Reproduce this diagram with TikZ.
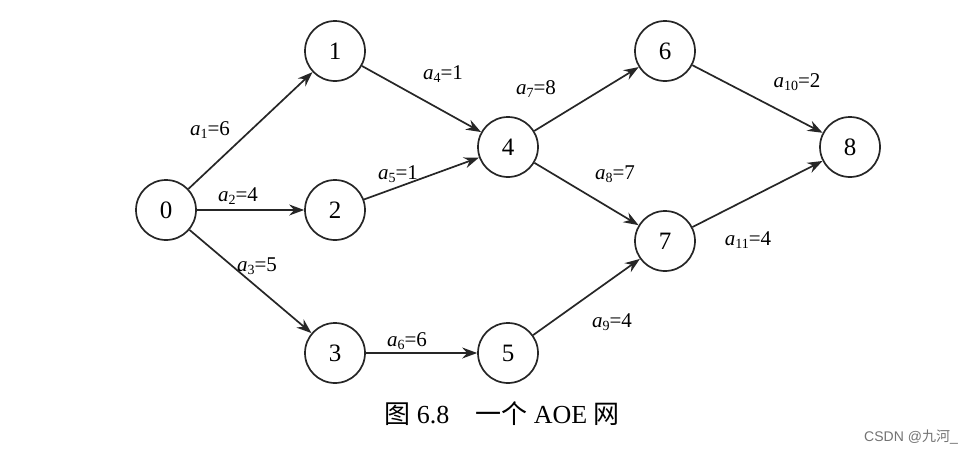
\documentclass[tikz,border=0pt]{standalone}
\usepackage{fontspec}
\setmainfont{Liberation Serif}
\newfontfamily\cjk{Noto Sans CJK SC}
\newfontfamily\wmfont{Liberation Sans}
\usetikzlibrary{arrows.meta}
\newcommand\arclab[2]{\textit{a}\raisebox{-0.35ex}{\fontsize{7}{8}\selectfont #1}=#2}
\begin{document}
\begin{tikzpicture}[x=0.5pt,y=-0.5pt,
  vtx/.style={circle,draw=black!85,line width=0.85pt,minimum size=30pt,inner sep=0pt,font=\fontsize{12.5}{14}\selectfont},
  arc/.style={draw=black!85,line width=0.85pt,-{Stealth[length=7.5pt,width=5.5pt,inset=2.5pt]}},
  lbl/.style={inner sep=0pt,font=\fontsize{10.5}{12}\selectfont}]
\useasboundingbox[fill=white] (0,0) rectangle (968,450);
\node[vtx] (n0) at (166,210) {0};
\node[vtx] (n1) at (335,51) {1};
\node[vtx] (n2) at (335,210) {2};
\node[vtx] (n3) at (335,353) {3};
\node[vtx] (n4) at (508,147) {4};
\node[vtx] (n5) at (508,353) {5};
\node[vtx] (n6) at (665,51) {6};
\node[vtx] (n7) at (665,241) {7};
\node[vtx] (n8) at (850,147) {8};
\draw[arc] (n0) -- (n1);
\draw[arc] (n0) -- (n2);
\draw[arc] (n0) -- (n3);
\draw[arc] (n1) -- (n4);
\draw[arc] (n2) -- (n4);
\draw[arc] (n3) -- (n5);
\draw[arc] (n4) -- (n6);
\draw[arc] (n4) -- (n7);
\draw[arc] (n5) -- (n7);
\draw[arc] (n6) -- (n8);
\draw[arc] (n7) -- (n8);
\node[lbl] (l1) at (210,130) {\arclab{1}{6}};
\node[lbl] (l2) at (238,196) {\arclab{2}{4}};
\node[lbl] (l3) at (257,266) {\arclab{3}{5}};
\node[lbl] (l4) at (443,74) {\arclab{4}{1}};
\node[lbl] (l5) at (398,174) {\arclab{5}{1}};
\node[lbl] (l6) at (407,341) {\arclab{6}{6}};
\node[lbl] (l7) at (536,89) {\arclab{7}{8}};
\node[lbl] (l8) at (615,174) {\arclab{8}{7}};
\node[lbl] (l9) at (612,322) {\arclab{9}{4}};
\node[lbl] (l10) at (797,82) {\arclab{10}{2}};
\node[lbl] (l11) at (748,240) {\arclab{11}{4}};
\node[inner sep=0pt,font=\fontsize{13}{15}\selectfont] (cap) at (502,414) {{\cjk 图} 6.8\quad{\cjk 一个} AOE {\cjk 网}};
\node[inner sep=0pt,text=black!55,font=\wmfont\fontsize{7}{8}\selectfont] (wm) at (911,437) {CSDN @{\cjk 九河}\_};
\end{tikzpicture}
\end{document}
